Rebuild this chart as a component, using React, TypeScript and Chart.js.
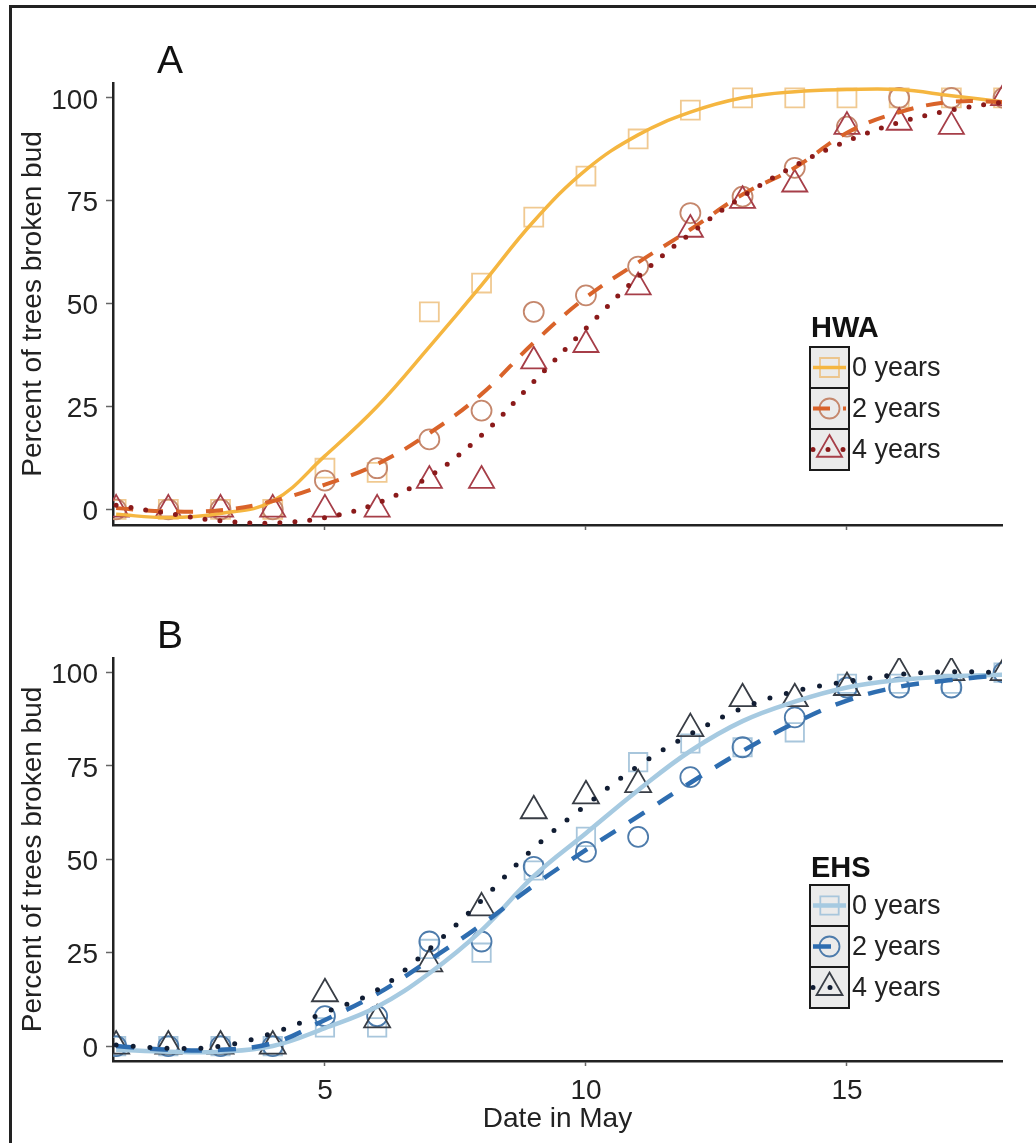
import React, { useEffect, useRef } from 'react';
import { Chart, registerables } from 'chart.js';

Chart.register(...registerables);

const FONT = "'Liberation Sans', Arial, Helvetica, sans-serif";

// ---------------- data ----------------
const days = [1, 2, 3, 4, 5, 6, 7, 8, 9, 10, 11, 12, 13, 14, 15, 16, 17, 18];
const yTicks = [0, 25, 50, 75, 100];
const xTicks = [5, 10, 15];
const groupLabels = ['0 years', '2 years', '4 years'];

// Panel A – HWA observed
const hwa0 = [0, 0, 0, 0, 10, 9, 48, 55, 71, 81, 90, 97, 100, 100, 100, 100, 100, 100];
const hwa2 = [0, 0, 0, 0, 7, 10, 17, 24, 48, 52, 59, 72, 76, 83, 93, 100, 100, 100];
const hwa4 = [0, 0, 0, 0, 0, 0, 7, 7, 36, 40, 54, 68, 75, 79, 93, 94, 93, 100];
// Panel A – fitted curves (read at each day)
const hwa0Fit = [-1.2, -2, -1, 2, 13, 25, 39.5, 54.5, 70, 82.5, 91, 96.5, 100, 101.5, 102, 102, 100.5, 99];
const hwa2Fit = [0.3, -0.5, -0.2, 2, 6, 11, 18.5, 28, 40.5, 51.5, 60, 68, 76.5, 83, 91.5, 96.5, 99, 99];
const hwa4Fit = [1, -1, -2.8, -3.3, -2, 1.5, 8, 18, 31, 44, 56.5, 67, 76, 83.5, 89.5, 94, 97, 99];

// Panel B – EHS observed
const ehs0 = [0, 0, 0, 0, 5, 5, 26, 25, 47, 56, 76, 81, 80, 84, 97, 97, 97, 100];
const ehs2 = [0, 0, 0, 0, 8, 8, 28, 28, 48, 52, 56, 72, 80, 88, 96, 96, 96, 100];
const ehs4 = [0, 0, 0, 0, 14, 7, 22, 37, 63, 67, 70, 85, 93, 93, 96, 100, 100, 100];
// Panel B – fitted curves
const ehs0Fit = [-1, -1.5, -1.5, 0, 4.8, 10.5, 19.5, 31, 45.5, 57, 68.5, 79, 87, 92.2, 96, 98, 99, 99.4];
const ehs2Fit = [0, -1, -1, 0.8, 7, 14, 23, 32.5, 43, 52.5, 61.5, 70.5, 79, 86.5, 92.5, 96.2, 98, 99.4];
const ehs4Fit = [0.3, -0.6, 0, 3.5, 9, 15, 26, 39, 53, 64.5, 75, 83.5, 90.5, 95, 97.6, 99.5, 100.2, 100];

// ---------------- styles ----------------
type Style = {
  line: string;
  lineWidth: number;
  dash: number[];
  cap: CanvasLineCap;
  marker: 'rect' | 'circle' | 'triangle';
  markerColor: string;
  markerRadius: number;
};

const hwaStyles: Style[] = [
  { line: '#f5b640', lineWidth: 3.5, dash: [], cap: 'butt', marker: 'rect', markerColor: 'rgba(236,188,118,0.8)', markerRadius: 13.4 },
  { line: '#d9632a', lineWidth: 4, dash: [17, 13], cap: 'butt', marker: 'circle', markerColor: '#c5876c', markerRadius: 10 },
  { line: '#8b1a1a', lineWidth: 5, dash: [0, 15], cap: 'round', marker: 'triangle', markerColor: '#a63e48', markerRadius: 14.5 },
];

const ehsStyles: Style[] = [
  { line: '#a6cae1', lineWidth: 4.5, dash: [], cap: 'butt', marker: 'rect', markerColor: '#a8c6dc', markerRadius: 13 },
  { line: '#2e6db0', lineWidth: 4.5, dash: [18, 16], cap: 'butt', marker: 'circle', markerColor: '#4d7bab', markerRadius: 10 },
  { line: '#111d33', lineWidth: 5, dash: [0, 17], cap: 'round', marker: 'triangle', markerColor: '#383d45', markerRadius: 15 },
];

function drawMarker(ctx: CanvasRenderingContext2D, s: Style, x: number, y: number) {
  const r = s.markerRadius;
  ctx.save();
  ctx.strokeStyle = s.markerColor;
  ctx.lineWidth = 1.8;
  ctx.beginPath();
  if (s.marker === 'rect') {
    const h = Math.SQRT1_2 * r;
    ctx.rect(x - h, y - h, 2 * h, 2 * h);
  } else if (s.marker === 'circle') {
    ctx.arc(x, y, r, 0, Math.PI * 2);
  } else {
    ctx.moveTo(x, y - r);
    ctx.lineTo(x + r * Math.sin((2 * Math.PI) / 3), y + r / 2);
    ctx.lineTo(x - r * Math.sin((2 * Math.PI) / 3), y + r / 2);
    ctx.closePath();
  }
  ctx.stroke();
  ctx.restore();
}

const overlayPlugin = {
  id: 'overlay',
  afterDraw(chart: any, _args: any, opts: any) {
    const ctx = chart.ctx as CanvasRenderingContext2D;
    ctx.save();
    ctx.fillStyle = '#111';
    ctx.font = `39px ${FONT}`;
    ctx.textAlign = 'center';
    ctx.textBaseline = 'alphabetic';
    ctx.fillText(opts.letter, 170, 73);

    ctx.textAlign = 'left';
    ctx.font = `bold 29px ${FONT}`;
    ctx.fillText(opts.legendTitle, opts.x + 1, opts.titleBaseline);

    (opts.styles as Style[]).forEach((s, i) => {
      const y0 = opts.boxTop + i * opts.rowH;
      const cx = opts.x + opts.boxW / 2;
      const cy = y0 + opts.rowH / 2;
      ctx.fillStyle = '#ebebeb';
      ctx.fillRect(opts.x, y0, opts.boxW, opts.rowH);
      drawMarker(ctx, s, cx, cy);
      ctx.save();
      ctx.beginPath();
      ctx.strokeStyle = s.line;
      ctx.lineWidth = s.lineWidth;
      ctx.setLineDash(s.dash);
      ctx.lineCap = s.cap;
      ctx.moveTo(opts.x + 3, cy);
      ctx.lineTo(opts.x + opts.boxW - 3, cy);
      ctx.stroke();
      ctx.restore();
      ctx.strokeStyle = '#1a1a1a';
      ctx.lineWidth = 2;
      ctx.strokeRect(opts.x, y0, opts.boxW, opts.rowH);
      ctx.fillStyle = '#222';
      ctx.font = `27px ${FONT}`;
      ctx.textBaseline = 'middle';
      ctx.fillText(groupLabels[i], opts.x + opts.boxW + 3, cy + 1);
      ctx.textBaseline = 'alphabetic';
    });
    ctx.restore();
  },
};

type PanelProps = {
  top: number;
  height: number;
  letter: string;
  legendTitle: string;
  obs: number[][];
  fits: number[][];
  styles: Style[];
  showXLabels: boolean;
  xHeight: number;
  yMin: number;
  yMax: number;
  titleBaseline: number;
  boxTop: number;
};

function Panel(p: PanelProps) {
  const ref = useRef<HTMLCanvasElement>(null);
  useEffect(() => {
    const canvas = ref.current!;
    const order = [2, 1, 0];
    const lineSets = order.map((i) => ({
      data: days.map((d, k) => ({ x: d, y: p.fits[i][k] })),
      borderColor: p.styles[i].line,
      borderWidth: p.styles[i].lineWidth,
      borderDash: p.styles[i].dash,
      borderCapStyle: p.styles[i].cap,
      pointRadius: 0,
      tension: 0.4,
      fill: false,
      clip: 0,
    }));
    const pointSets = order.map((i) => ({
      data: days.map((d, k) => ({ x: d, y: p.obs[i][k] })),
      showLine: false,
      pointStyle: p.styles[i].marker,
      pointRadius: p.styles[i].markerRadius,
      pointBorderColor: p.styles[i].markerColor,
      pointBackgroundColor: 'rgba(0,0,0,0)',
      pointBorderWidth: 1.8,
      clip: 0,
    }));
    const axisFont = { family: FONT, size: 28 };
    const chart = new Chart(canvas, {
      type: 'line',
      data: { datasets: [...lineSets, ...pointSets] as any },
      options: {
        responsive: false,
        animation: false,
        devicePixelRatio: 1,
        events: [],
        layout: { padding: { top: 83, right: 34, left: 0, bottom: 0 } },
        plugins: {
          legend: { display: false },
          tooltip: { enabled: false },
          overlay: {
            letter: p.letter,
            legendTitle: p.legendTitle,
            styles: p.styles,
            x: 810,
            titleBaseline: p.titleBaseline,
            boxTop: p.boxTop,
            rowH: 41,
            boxW: 39,
          },
        } as any,
        scales: {
          x: {
            type: 'linear',
            min: 0.94,
            max: 17.97,
            afterBuildTicks: (s: any) => {
              s.ticks = xTicks.map((v) => ({ value: v }));
            },
            afterFit: (s: any) => {
              s.height = p.xHeight;
            },
            grid: { drawOnChartArea: false, drawTicks: true, tickLength: 5, tickColor: '#666', tickWidth: 1.5 },
            border: { display: true, color: '#222', width: 2.5 },
            ticks: { display: p.showXLabels, padding: 8, color: '#222', font: axisFont, maxRotation: 0 },
            title: {
              display: p.showXLabels,
              text: 'Date in May',
              color: '#222',
              font: axisFont,
              padding: { top: 0, bottom: 7 },
            },
          },
          y: {
            type: 'linear',
            min: p.yMin,
            max: p.yMax,
            afterBuildTicks: (s: any) => {
              s.ticks = yTicks.map((v) => ({ value: v }));
            },
            afterFit: (s: any) => {
              s.width = 113;
            },
            grid: { drawOnChartArea: false, drawTicks: true, tickLength: 7, tickColor: '#666', tickWidth: 1.5 },
            border: { display: true, color: '#222', width: 2.5 },
            ticks: { padding: 8, labelOffset: 3, color: '#222', font: axisFont },
            title: {
              display: true,
              text: 'Percent of trees broken bud',
              color: '#222',
              font: axisFont,
              padding: { top: 16, bottom: 0 },
            },
          },
        },
      },
      plugins: [overlayPlugin as any],
    });
    return () => chart.destroy();
  }, []);
  return (
    <canvas
      ref={ref}
      width={1036}
      height={p.height}
      style={{ position: 'absolute', left: 0, top: p.top, width: 1036, height: p.height }}
    />
  );
}

export default function App() {
  return (
    <div style={{ position: 'absolute', left: 0, top: 0, width: 1036, height: 1143, background: '#fff', overflow: 'hidden' }}>
      <Panel
        top={0}
        height={575}
        letter="A"
        legendTitle="HWA"
        obs={[hwa0, hwa2, hwa4]}
        fits={[hwa0Fit, hwa2Fit, hwa4Fit]}
        styles={hwaStyles}
        showXLabels={false}
        xHeight={50}
        yMin={-3.8}
        yMax={103.6}
        titleBaseline={337}
        boxTop={347}
      />
      <Panel
        top={575}
        height={568}
        letter="B"
        legendTitle="EHS"
        obs={[ehs0, ehs2, ehs4]}
        fits={[ehs0Fit, ehs2Fit, ehs4Fit]}
        styles={ehsStyles}
        showXLabels={true}
        xHeight={82}
        yMin={-4}
        yMax={103.9}
        titleBaseline={302}
        boxTop={310}
      />
      <div
        style={{
          position: 'absolute',
          left: 9,
          top: 5,
          width: 1036,
          height: 1143,
          borderTop: '3px solid #222',
          borderLeft: '3px solid #222',
          boxSizing: 'border-box',
        }}
      />
    </div>
  );
}
